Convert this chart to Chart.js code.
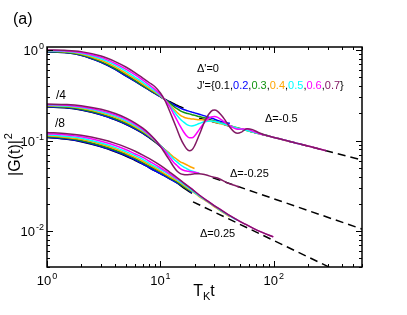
<!DOCTYPE html>
<html>
<head>
<meta charset="utf-8">
<script src="https://cdn.jsdelivr.net/npm/chart.js@4.4.0/dist/chart.umd.min.js"></script>
<style>
html, body { margin: 0; padding: 0; background: #fff; }
canvas { display: block; }
</style>
</head>
<body>
<canvas id="myChart" width="407" height="315"></canvas>
<script>
// J' values and their colours (same order everywhere)
var jValues = ['0.1', '0.2', '0.3', '0.4', '0.5', '0.6', '0.7'];
var jColors = ['#000000', '#0000ff', '#129412', '#ffa500', '#00ffff', '#ff00ff', '#821a64'];

// Delta = -0.5 (unscaled)
var xA = [1, 1.5, 2, 3, 4, 5, 6, 7, 8, 9, 10, 11, 12, 13, 14, 15, 16, 17, 18, 19,
          20, 22, 25, 28, 30, 32, 36, 41, 45, 48, 52, 58, 65, 75, 90, 110, 140, 180, 230, 290];
var yA1 = [0.955, 0.93, 0.875, 0.73, 0.61, 0.515, 0.45, 0.4, 0.36, 0.33, 0.305, 0.285, 0.27, 0.257, 0.245, 0.236, 0.228];
var yA2 = [0.955, 0.93, 0.875, 0.73, 0.61, 0.515, 0.45, 0.4, 0.36, 0.33, 0.305, 0.283, 0.265, 0.25, 0.238, 0.228, 0.22, 0.215, 0.21, 0.206,
           0.202, 0.195, 0.186, 0.177, 0.172, 0.167, 0.16, 0.155];
var yA3 = [0.965, 0.94, 0.885, 0.745, 0.625, 0.53, 0.46, 0.405, 0.365, 0.335, 0.31, 0.283, 0.26, 0.24, 0.225, 0.213, 0.205, 0.2, 0.197, 0.193,
           0.19, 0.184, 0.177, 0.169, 0.164, 0.16, 0.153, 0.146, 0.141, 0.138, 0.134, 0.129, 0.124, 0.119, 0.112];
var yA4 = [0.975, 0.955, 0.905, 0.77, 0.65, 0.55, 0.48, 0.42, 0.375, 0.34, 0.31, 0.28, 0.25, 0.225, 0.205, 0.19, 0.182, 0.177, 0.175, 0.173,
           0.172, 0.17, 0.168, 0.164, 0.16, 0.156, 0.15, 0.145, 0.14, 0.137, 0.134, 0.129, 0.124, 0.119, 0.112, 0.105, 0.097];
var yA5 = [0.98, 0.965, 0.92, 0.8, 0.68, 0.58, 0.5, 0.44, 0.39, 0.35, 0.315, 0.28, 0.245, 0.215, 0.19, 0.172, 0.16, 0.151, 0.146, 0.145,
           0.147, 0.154, 0.162, 0.164, 0.162, 0.159, 0.152, 0.145, 0.14, 0.137, 0.134, 0.129, 0.124, 0.119, 0.112, 0.105, 0.097, 0.09];
var yA6 = [0.99, 0.978, 0.94, 0.83, 0.71, 0.61, 0.53, 0.465, 0.41, 0.365, 0.322, 0.28, 0.24, 0.2, 0.168, 0.143, 0.125, 0.113, 0.107, 0.107,
           0.112, 0.132, 0.163, 0.182, 0.184, 0.18, 0.163, 0.146, 0.136, 0.133, 0.134, 0.134, 0.127, 0.119, 0.112, 0.105, 0.097, 0.09, 0.083, 0.077];
var yA7 = [1.0, 0.99, 0.96, 0.86, 0.745, 0.645, 0.56, 0.49, 0.435, 0.39, 0.335, 0.275, 0.215, 0.168, 0.133, 0.107, 0.091, 0.081, 0.077, 0.079,
           0.087, 0.115, 0.17, 0.21, 0.217, 0.21, 0.178, 0.14, 0.124, 0.12, 0.124, 0.135, 0.132, 0.121, 0.112, 0.105, 0.097, 0.09, 0.083, 0.077];

// Delta = -0.25 (divided by 4)
var xB = [1, 1.5, 2, 3, 4, 5, 6, 7, 8, 9, 10, 11, 12, 13, 14, 15, 16, 17, 18, 20, 22, 25, 29, 33, 38, 44, 50];
var yB1 = [0.235, 0.229, 0.217, 0.192, 0.169, 0.15, 0.134, 0.12, 0.107, 0.096, 0.086, 0.078];
var yB2 = [0.236, 0.23, 0.218, 0.193, 0.17, 0.151, 0.135, 0.121, 0.108, 0.097, 0.087, 0.079];
var yB3 = [0.239, 0.233, 0.222, 0.197, 0.174, 0.155, 0.138, 0.123, 0.11, 0.098, 0.088, 0.079, 0.072];
var yB4 = [0.242, 0.237, 0.227, 0.203, 0.18, 0.16, 0.142, 0.126, 0.112, 0.099, 0.088, 0.079, 0.072, 0.066, 0.062, 0.058, 0.056, 0.054, 0.052, 0.049];
var yB5 = [0.245, 0.24, 0.231, 0.208, 0.186, 0.165, 0.146, 0.129, 0.114, 0.1, 0.088, 0.078, 0.07, 0.063, 0.058, 0.054, 0.051, 0.049, 0.047, 0.045, 0.0435];
var yB6 = [0.249, 0.245, 0.236, 0.214, 0.192, 0.171, 0.151, 0.133, 0.116, 0.101, 0.087, 0.076, 0.066, 0.058, 0.053, 0.049, 0.047, 0.046, 0.0455, 0.0445, 0.0435];
var yB7 = [0.253, 0.25, 0.242, 0.221, 0.199, 0.177, 0.156, 0.137, 0.119, 0.102, 0.086, 0.072, 0.061, 0.052, 0.046, 0.043, 0.042, 0.0418, 0.042, 0.0428,
           0.043, 0.0418, 0.0395, 0.0378, 0.0345, 0.0322, 0.0305];

// Delta = 0.25 (divided by 8)
var xC = [1, 1.5, 2, 3, 4, 5, 6, 7, 8, 10, 12, 14, 16, 19, 22, 26, 30, 35, 41, 48, 56, 66, 80, 99];
var yC1 = [0.108, 0.103, 0.097, 0.085, 0.075, 0.067, 0.06, 0.055, 0.05, 0.043, 0.038, 0.034, 0.03, 0.026];
var yC2 = [0.109, 0.104, 0.098, 0.086, 0.076, 0.068, 0.061, 0.055, 0.05, 0.043, 0.038, 0.034, 0.031, 0.0265];
var yC3 = [0.111, 0.106, 0.1, 0.088, 0.078, 0.07, 0.063, 0.057, 0.052, 0.045, 0.039, 0.035, 0.031, 0.027];
var yC4 = [0.113, 0.108, 0.103, 0.091, 0.081, 0.072, 0.065, 0.059, 0.054, 0.046, 0.04, 0.036, 0.032, 0.0275, 0.024, 0.021, 0.0185, 0.0163, 0.0143];
var yC5 = [0.116, 0.111, 0.106, 0.094, 0.084, 0.075, 0.068, 0.062, 0.056, 0.048, 0.042, 0.037, 0.033, 0.028, 0.0245, 0.0212, 0.0188, 0.0165, 0.0146, 0.0131];
var yC6 = [0.119, 0.115, 0.11, 0.098, 0.088, 0.079, 0.071, 0.065, 0.059, 0.05, 0.043, 0.038, 0.034, 0.029, 0.025, 0.0215, 0.019, 0.0168, 0.0148, 0.0132,
           0.0119, 0.0107, 0.0096, 0.0086];
var yC7 = [0.123, 0.119, 0.114, 0.103, 0.093, 0.084, 0.076, 0.069, 0.063, 0.053, 0.045, 0.039, 0.034, 0.029, 0.025, 0.0215, 0.019, 0.0168, 0.0148, 0.0132,
           0.0119, 0.0107, 0.0096, 0.0086];

// dashed power-law guides (end points)
var guideAx = [22, 600],   guideAy = [0.176, 0.061];
var guideBx = [29, 600],   guideBy = [0.0387, 0.0105];
var guideCx = [19.4, 320], guideCy = [0.021, 0.0039];

// axis ranges and labelled decades
var xRange = [1, 600];
var yRange = [0.004, 1.08];
var xDecades = [1, 10, 100];
var xExps = ['0', '1', '2'];
var yDecades = [0.001, 0.01, 0.1, 1];
var yExps = ['-3', '-2', '-1', '0'];

function pts(xs, ys) {
  return ys.map(function (y, i) { return { x: xs[i], y: y }; });
}

var datasets = [];
[[xA, [yA1, yA2, yA3, yA4, yA5, yA6, yA7]],
 [xB, [yB1, yB2, yB3, yB4, yB5, yB6, yB7]],
 [xC, [yC1, yC2, yC3, yC4, yC5, yC6, yC7]]].forEach(function (g) {
  g[1].forEach(function (ys, j) {
    datasets.push({
      data: pts(g[0], ys),
      borderColor: jColors[j],
      borderWidth: 1.5,
      cubicInterpolationMode: 'monotone',
      order: 8 - j
    });
  });
});
[[guideAx, guideAy], [guideBx, guideBy], [guideCx, guideCy]].forEach(function (g) {
  datasets.push({
    data: pts(g[0], g[1]),
    borderColor: '#000000',
    borderWidth: 1.5,
    borderDash: [8, 5],
    order: 20
  });
});

var FONT = '"Liberation Sans", Arial, sans-serif';

function powLabel(c, exp, x, y, align) {
  c.font = '13px ' + FONT;
  var wb = c.measureText('10').width;
  c.font = '9px ' + FONT;
  var we = c.measureText(exp).width;
  var x0 = align === 'right' ? x - wb - we - 1 : x - (wb + we + 1) / 2;
  c.textAlign = 'left';
  c.textBaseline = 'alphabetic';
  c.font = '13px ' + FONT;
  c.fillText('10', x0, y);
  c.font = '9px ' + FONT;
  c.fillText(exp, x0 + wb + 1, y - 6);
}

var frame = {
  id: 'frame',
  afterDraw: function (chart) {
    var c = chart.ctx, a = chart.chartArea;
    var xs = chart.scales.x, ys = chart.scales.y;
    c.save();
    c.strokeStyle = '#000';
    c.fillStyle = '#000';
    c.lineWidth = 1;

    function seg(x1, y1, x2, y2) {
      c.beginPath(); c.moveTo(x1, y1); c.lineTo(x2, y2); c.stroke();
    }

    // inward ticks on all four sides
    xDecades.forEach(function (d) {
      for (var m = 1; m <= 9; m++) {
        var v = m * d;
        if (v < xRange[0] || v > xRange[1]) continue;
        var p = Math.round(xs.getPixelForValue(v)) + 0.5;
        var len = m === 1 ? 6 : 3;
        seg(p, a.bottom, p, a.bottom - len);
        seg(p, a.top, p, a.top + len);
      }
    });
    yDecades.forEach(function (d) {
      for (var m = 1; m <= 9; m++) {
        var v = m * d;
        if (v < yRange[0] * 0.999 || v > yRange[1]) continue;
        var p = Math.round(ys.getPixelForValue(v)) + 0.5;
        var len = m === 1 ? 6 : 3;
        seg(a.left, p, a.left + len, p);
        seg(a.right, p, a.right - len, p);
      }
    });

    c.lineWidth = 1.5;
    c.strokeRect(a.left, a.top, a.right - a.left, a.bottom - a.top);

    // tick labels
    xDecades.forEach(function (d, i) {
      powLabel(c, xExps[i], xs.getPixelForValue(d), a.bottom + 18, 'center');
    });
    yDecades.forEach(function (d, i) {
      if (d < yRange[0]) return;
      powLabel(c, yExps[i], a.left - 3, ys.getPixelForValue(d) + 5, 'right');
    });

    // axis titles
    c.textAlign = 'left';
    c.textBaseline = 'alphabetic';
    c.font = '16px ' + FONT;
    var wT = c.measureText('T').width, wt = c.measureText('t').width;
    c.font = '11px ' + FONT;
    var wK = c.measureText('K').width;
    var x0 = 204 - (wT + wK + wt) / 2;
    c.font = '16px ' + FONT;
    c.fillText('T', x0, 296);
    c.font = '11px ' + FONT;
    c.fillText('K', x0 + wT, 300);
    c.font = '16px ' + FONT;
    c.fillText('t', x0 + wT + wK, 296);

    c.save();
    c.translate(20, 155);
    c.rotate(-Math.PI / 2);
    c.font = '16px ' + FONT;
    var wg = c.measureText('|G(t)|').width;
    c.font = '11px ' + FONT;
    var w2 = c.measureText('2').width;
    var s = -(wg + w2) / 2;
    c.font = '16px ' + FONT;
    c.fillText('|G(t)|', s, 0);
    c.font = '11px ' + FONT;
    c.fillText('2', s + wg + 1, -8);
    c.restore();

    // panel letter
    c.font = '16px ' + FONT;
    c.fillText('(a)', 13, 24);

    // annotations
    c.textBaseline = 'middle';
    c.font = '11px ' + FONT;
    c.fillText('\u0394\'=0', 197, 68.5);
    var pieces = [['J\'={', '#000']];
    jValues.forEach(function (v, j) {
      if (j > 0) pieces.push([',', '#000']);
      pieces.push([v, jColors[j]]);
    });
    pieces.push(['}', '#000']);
    var px = 197;
    pieces.forEach(function (p) {
      c.fillStyle = p[1];
      c.fillText(p[0], px, 86);
      px += c.measureText(p[0]).width;
    });
    c.fillStyle = '#000';
    c.fillText('\u0394=-0.5', 265, 119);
    c.fillText('\u0394=-0.25', 230, 173.5);
    c.fillText('\u0394=0.25', 200, 234);
    c.font = '12px ' + FONT;
    c.fillText('/4', 56, 96);
    c.fillText('/8', 55, 124);
    c.restore();
  }
};

var ctx = document.getElementById('myChart').getContext('2d');
var myChart = new Chart(ctx, {
  type: 'line',
  data: { datasets: datasets },
  options: {
    responsive: false,
    animation: false,
    layout: { padding: { left: 47, top: 47, right: 45, bottom: 48 } },
    elements: { point: { radius: 0 } },
    plugins: { legend: { display: false }, tooltip: { enabled: false } },
    scales: {
      x: { type: 'logarithmic', min: xRange[0], max: xRange[1], display: false },
      y: { type: 'logarithmic', min: yRange[0], max: yRange[1], display: false }
    }
  },
  plugins: [frame]
});
</script>
</body>
</html>
